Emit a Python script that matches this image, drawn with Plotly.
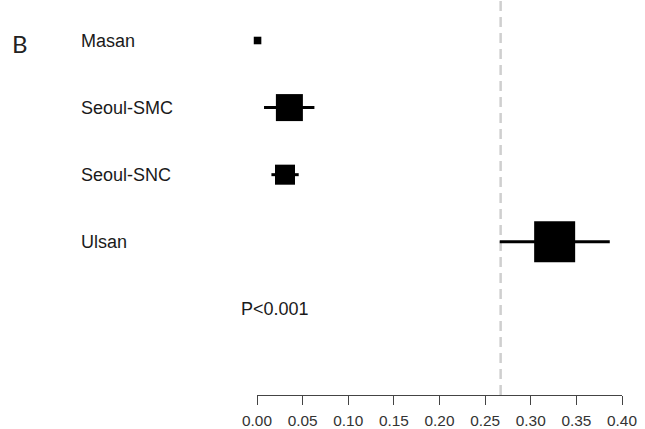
import plotly.graph_objects as go
import numpy as np

# ---- data ----
centers = ["Masan", "Seoul-SMC", "Seoul-SNC", "Ulsan"]
estimate = [0.0006, 0.0355, 0.0307, 0.3262]
ci_low = [0.0002, 0.0077, 0.0158, 0.2660]
ci_high = [0.0010, 0.0629, 0.0457, 0.3866]
weights = [2.0, 25.4, 14.0, 58.6]          # study weights (%)
pooled = 0.267
p_text = "P<0.001"
panel = "B"
tick_vals = [0.00, 0.05, 0.10, 0.15, 0.20, 0.25, 0.30, 0.35, 0.40]
tick_text = ["%.2f" % v for v in tick_vals]

rows = list(range(len(centers)))
wmax = max(weights)
sizes = [41 * np.sqrt(w / wmax) for w in weights]

fig = go.Figure()
fig.add_trace(go.Scatter(
    x=estimate, y=rows, mode="markers",
    marker=dict(symbol="square", size=sizes, color="black", opacity=1, line=dict(width=0)),
    error_x=dict(type="data", symmetric=False,
                 array=[h - e for h, e in zip(ci_high, estimate)],
                 arrayminus=[e - l for e, l in zip(estimate, ci_low)],
                 thickness=3, width=0, color="black"),
    cliponaxis=False, hoverinfo="skip", showlegend=False,
))

fig.add_shape(type="line", xref="x", yref="paper", x0=pooled, x1=pooled, y0=0, y1=1,
              line=dict(color="#cfcfcf", width=2.5, dash="10px,6px"), layer="below")

label_font = dict(family="Liberation Sans, Arial, sans-serif", size=18, color="#1a1a1a")
for name, r in zip(centers, rows):
    fig.add_annotation(x=-0.4885, y=r, xref="paper", yref="y", text=name, showarrow=False,
                       xanchor="left", yanchor="middle", font=label_font)

fig.add_annotation(x=-0.0501, y=4.0, xref="paper", yref="y", text=p_text, showarrow=False,
                   xanchor="left", yanchor="middle", font=label_font)
fig.add_annotation(x=-0.676, y=0.04, xref="paper", yref="y", text=panel, showarrow=False,
                   xanchor="left", yanchor="middle",
                   font=dict(family="Lato, Open Sans, sans-serif", size=24, color="#222222"))

fig.update_layout(
    width=645, height=429,
    margin=dict(l=257, r=23, t=0, b=32),
    paper_bgcolor="white", plot_bgcolor="white",
    xaxis=dict(range=[0, 0.4], tickmode="array", tickvals=tick_vals, ticktext=tick_text,
               showgrid=False, zeroline=False, showline=True, linecolor="#444444", linewidth=1,
               ticks="outside", ticklen=8.5, tickwidth=1, tickcolor="#444444",
               ticklabelstandoff=3,
               tickfont=dict(family="Liberation Sans, Arial, sans-serif", size=15.4, color="#333333")),
    yaxis=dict(range=[5.284, -0.6036], showgrid=False, zeroline=False, showline=False,
               showticklabels=False, ticks=""),
)

fig.write_html("out.html")
